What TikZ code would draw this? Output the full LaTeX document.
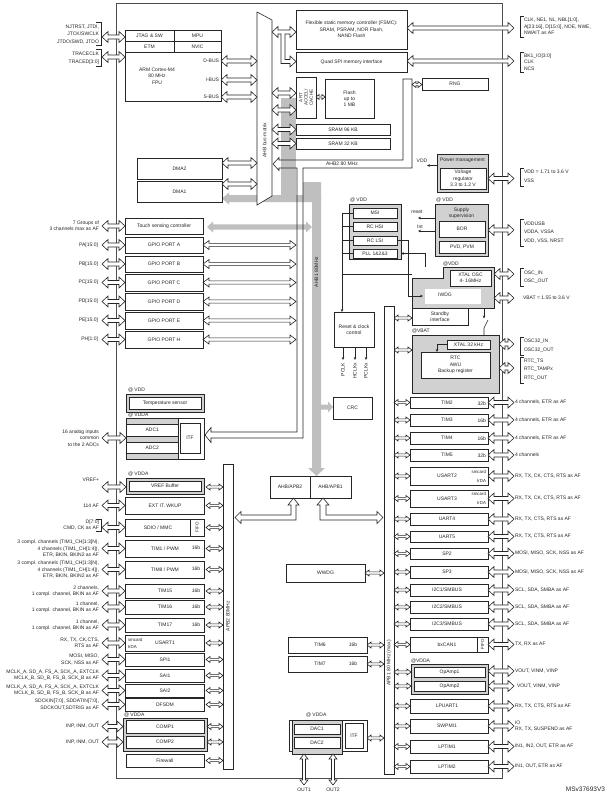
\documentclass[tikz,border=0pt]{standalone}
\usepackage{fontspec}
\setmainfont{Liberation Sans}
\usetikzlibrary{arrows.meta}
\newcommand\bx[7][]{%
  \pgfmathsetmacro\bxw{#5-#3}\pgfmathsetmacro\bxh{#6-#4}%
  \node[box,minimum width=\bxw pt,minimum height=\bxh pt,#1] (#2) at ({(#3+#5)/2},{(#4+#6)/2}) {#7};}
\newcommand\harrow[6]{\draw[arr] ({#1},{#3}) -- ({#1+#4},{#3-#5}) -- ({#1+#4},{#3-#6}) -- ({#2-#4},{#3-#6}) -- ({#2-#4},{#3-#5}) -- ({#2},{#3}) -- ({#2-#4},{#3+#5}) -- ({#2-#4},{#3+#6}) -- ({#1+#4},{#3+#6}) -- ({#1+#4},{#3+#5}) -- cycle;}
\newcommand\hA[3]{\harrow{#1}{#2}{#3}{6}{5.5}{2}}
\newcommand\hM[3]{\harrow{#1}{#2}{#3}{6}{4.5}{1.6}}
\newcommand\hS[3]{\harrow{#1}{#2}{#3}{4}{3}{1.1}}
\newcommand\varrow[3]{\draw[arr] ({#1},{#2}) -- ({#1+4},{#2+5}) -- ({#1+1.5},{#2+5}) -- ({#1+1.5},{#3-5}) -- ({#1+4},{#3-5}) -- ({#1},{#3}) -- ({#1-4},{#3-5}) -- ({#1-1.5},{#3-5}) -- ({#1-1.5},{#2+5}) -- ({#1-4},{#2+5}) -- cycle;}
\newcommand\bracketR[2]{\draw[ln] (524,{#1}) -- (520.5,{#1}) -- (520.5,{#2}) -- (524,{#2});}
\newcommand\bracketL[2]{\draw[ln] (96,{#1}) -- (101,{#1}) -- (101,{#2}) -- (96,{#2});}
\newcommand\lrow[6]{%
  \bx{#1}{125}{#2}{204}{#3}{}%
  \node[txt] at (165,{(#2+#3)/2}) {#4};%
  \node[txt] at (196,{(#2+#3)/2-0.5}) {#5};%
  \hS{206}{223}{(#2+#3)/2}%
  \hA{102}{125}{(#2+#3)/2}%
  \node[txt,anchor=east,align=right] at (99,{(#2+#3)/2}) {#6};}
\newcommand\rrow[6]{%
  \bx{#1}{410}{#2}{488}{#3}{}%
  \node[txt] at (447,{(#2+#3)/2}) {#4};%
  \node[txt,anchor=east] at (486,{(#2+#3)/2+1}) {#6};%
  \hS{394}{410}{(#2+#3)/2}%
  \hA{488}{514}{(#2+#3)/2}%
  \node[txt,anchor=west,align=left] at (515,{(#2+#3)/2}) {#5};}
\begin{document}
\begin{tikzpicture}[x=1pt,y=-1pt,
  font=\fontsize{5}{6.3}\selectfont,
  box/.style={draw=black!85,line width=0.6pt,fill=white,inner sep=0pt,outer sep=0pt,align=center,text=black!85},
  gbox/.style={box,fill=black!18},
  txt/.style={inner sep=0pt,outer sep=0pt,text=black!85},
  sm/.style={font=\fontsize{4.4}{5}\selectfont},
  rl/.style={txt,anchor=west,align=left,font=\fontsize{5}{8.5}\selectfont},
  arr/.style={draw=black!85,line width=0.6pt,fill=white,line join=miter},
  gbar/.style={fill=black!25,draw=none},
  ln/.style={draw=black!85,line width=0.6pt},
  tip/.style={-{Stealth[length=3pt,width=2.6pt]}}]
\useasboundingbox (0,0) rectangle (607,793);
\fill[white] (0,0) rectangle (607,793);

% ---------- gray AHB1 structure
\fill[gbar] (281,98) rectangle (296,200);
\fill[gbar] (222,198.5) -- (229,192.5) -- (229,195) -- (321,195) -- (321,202) -- (229,202) -- (229,204.5) -- cycle;
\fill[gbar] (303,182) rectangle (321,200);
\fill[gbar] (312,182) -- (321,182) -- (321,468) -- (325,468) -- (316.5,476) -- (308,468) -- (312,468) -- cycle;
\fill[gbar] (207,227) -- (213,221.5) -- (213,224.3) -- (306,224.3) -- (306,221.5) -- (312,227) -- (306,232.5) -- (306,229.7) -- (213,229.7) -- (213,232.5) -- cycle;
\fill[gbar] (321,404.5) -- (328,404.5) -- (328,401.5) -- (333,407) -- (328,412.5) -- (328,409.5) -- (321,409.5) -- cycle;
\node[txt,rotate=90] (ahb1lab) at (316.5,272) {AHB1 80MHz};

% ---------- main outline
\draw[ln,draw=black!70] (116,3) rectangle (502,778);

% ---------- AHB2 bus outline
\draw[ln] (273,164) -- (279,157.5) -- (279,160) -- (403,160) -- (403,79) -- (412,79) -- (412,168) -- (303,168) -- (303,438) -- (211,438) -- (211,442.5) -- (205,435) -- (211,427.5) -- (211,432) -- (297,432) -- (297,168) -- (279,168) -- (279,170.5) -- cycle;
\node[txt] (ahb2lab) at (342,164) {AHB2 80 MHz};

% ---------- bus matrix
\draw[arr] (257,12) -- (272,20) -- (272,196) -- (257,205) -- cycle;
\node[txt,rotate=90] (mtxlab) at (264.5,140) {AHB bus-matrix};

% ---------- Cortex
\bx{cortex}{125}{30}{221}{101}{}
\bx{jtag}{125}{30}{174}{41}{JTAG \& SW}
\bx{mpu}{174}{30}{221}{41}{MPU}
\bx{etm}{125}{41}{174}{52}{ETM}
\bx{nvic}{174}{41}{221}{52}{NVIC}
\node[txt,align=center] (cpu) at (157,76) {ARM Cortex-M4\\80 MHz\\FPU};
\node[txt,anchor=east] (dbus) at (219,61) {D-BUS};
\node[txt,anchor=east] (ibus) at (219,80) {I-BUS};
\node[txt,anchor=east] (sbus) at (219,97) {S-BUS};
\hA{221}{257}{61}
\hA{221}{257}{80}
\hA{221}{257}{97}
\node[txt,anchor=east,align=right,font=\fontsize{5}{7.6}\selectfont] (jtaglab) at (99,34.5) {NJTRST, JTDI,\\JTCK/SWCLK\\JTDO/SWD, JTDO};
\bracketL{22.5}{45.5}
\hA{102}{125}{37}
\node[txt,anchor=east,align=right,font=\fontsize{5}{8}\selectfont] (tracelab) at (99,58) {TRACECLK\\TRACED[3:0]};
\bracketL{49}{66}
\hA{102}{125}{57}

% ---------- DMA
\bx{dma2}{137}{158}{222}{179}{DMA2}
\bx{dma1}{137}{181}{222}{202}{DMA1}
\hA{222}{257}{163}
\hA{222}{257}{184}

% ---------- FSMC / QSPI
\bx{fsmc}{296}{10}{407}{49}{Flexible static memory controller (FSMC):\\SRAM, PSRAM, NOR Flash,\\NAND Flash}
\bx{qspi}{296}{52}{407}{72}{Quad SPI memory interface}
\hA{272}{296}{32}
\fill[white] (281.3,33.2) rectangle (284.7,60);
\draw[ln,fill=white] (281,33.6) -- (281,63.5) -- (290,63.5) -- (290,67) -- (296,61.5) -- (290,56) -- (290,59.5) -- (285,59.5) -- (285,33.6);
\hA{407}{514}{28}
\hA{407}{514}{61}
\node[txt,anchor=west,align=left] (fsmclab) at (524,26.5) {CLK, NE1, NL, NBL[1:0],\\A[23:16], D[15:0], NOE, NWE,\\NWAIT as AF};
\bracketR{16}{37}
\node[txt,anchor=west,align=left] (qspilab) at (524,62) {BK1\_IO[3:0]\\CLK\\NCS};
\bracketR{52}{72}

% ---------- Flash / SRAM
\bx{art}{296}{77}{316}{118}{}
\node[txt,rotate=90,align=center,font=\fontsize{4.6}{5.2}\selectfont] (artlab) at (306,97.5) {ART\\ACCEL/\\CACHE};
\bx{flash}{325}{79}{374}{118}{Flash\\up to\\1 MB}
\harrow{316}{325}{97}{3}{2.5}{0.9}
\bx{sram1}{296}{124}{390}{135}{SRAM 96 KB}
\bx{sram2}{296}{138}{390}{149}{SRAM 32 KB}
\hA{272}{296}{93}
\hA{272}{296}{110}
\hA{272}{296}{129.5}
\hA{272}{296}{143.5}

% ---------- RNG
\bx{rng}{422}{78}{488}{90}{RNG}
\hS{412}{422}{84.5}

% ---------- Power management
\bx[gbox]{pwr}{437}{154}{488}{192}{}
\node[txt] (pwrlab) at (462.5,160.5) {Power management};
\bx{vreg}{440}{168}{486}{189}{Voltage\\regulator\\3.3 to 1.2 V}
\node[txt] (vddlab) at (422,161) {VDD};
\draw[ln,tip] (437,165.5) -- (427,165.5);
\hA{488}{514}{178.5}
\node[rl] (vddr) at (524,176.5) {VDD = 1.71 to 3.6 V\\VSS};
\bracketR{168}{186}

% ---------- clocks
\node[txt,anchor=west] (vddc) at (350,200) {@ VDD};
\bx[gbox]{clk}{349}{204}{401}{259}{}
\bx{msi}{353}{208}{397}{218}{MSI}
\bx{hsi}{353}{222}{397}{231}{RC HSI}
\bx{lsi}{353}{236}{397}{245}{RC LSI}
\bx{pll}{353}{249}{397}{258}{PLL 1\&2\&3}
\draw[ln] (342,213) -- (353,213);
\draw[ln] (342,226.5) -- (353,226.5);
\draw[ln] (342,240.5) -- (353,240.5);
\draw[ln] (342,253.5) -- (353,253.5);
\draw[ln,tip] (342,213) -- (342,312);
\draw[ln] (342,274) -- (412,274);
\draw[ln,tip] (397,240.5) -- (408,240.5) -- (408,296) -- (423,296);
\draw[ln,tip] (425,267) -- (425,253.5) -- (401,253.5);

% ---------- supply supervision
\node[txt,anchor=west] (vdds) at (436,200) {@ VDD};
\bx[gbox]{sup}{435}{204}{488}{256}{}
\node[txt,align=center] (suplab) at (461.5,213) {Supply\\supervision};
\bx{bor}{439}{221}{485}{237}{BOR}
\bx{pvd}{439}{241}{485}{253}{PVD, PVM}
\node[txt] (rstlab) at (417,212) {reset};
\draw[ln,tip] (435,218) -- (418,218);
\node[txt] (intlab) at (420,227) {Int};
\draw[ln,tip] (435,231) -- (418,231);
\hA{488}{514}{230}
\node[rl] (suplabr) at (524,232.5) {VDDUSB\\VDDA, VSSA\\VDD, VSS, NRST};
\bracketR{219}{246}

% ---------- XTAL OSC / IWDG / standby
\node[txt,anchor=west] (vddx) at (443,264) {@VDD};
\draw[ln,fill=black!18] (412,278) -- (443,278) -- (443,267) -- (494,267) -- (494,308) -- (412,308) -- cycle;
\bx{xosc}{450}{270}{491}{286}{XTAL OSC\\4- 16MHz}
\fill[white] (425,289) rectangle (481,304);
\node[txt] (iwdg) at (445,295) {IWDG};
\draw[ln,tip] (408,296) -- (423,296);
\bx{stby}{412}{308}{468}{325}{Standby\\interface}
\hS{394}{412}{318}
\hA{494}{514}{274}
\node[rl] (osclab) at (524,277) {OSC\_IN\\OSC\_OUT};
\bracketR{268}{286}
\hA{494}{514}{298}
\node[txt,anchor=west] (vbatlab) at (523,298) {VBAT = 1.55 to 3.6 V};
\draw[ln,tip] (484,309) -- (484,318.5);
\draw[ln] (488,320) -- (484,328) -- (484,335);

% ---------- VBAT domain
\node[txt,anchor=west] (vbatd) at (412,331) {@VBAT};
\bx[gbox]{vbat}{412}{335}{499}{393}{}
\bx{x32}{447}{340}{490}{349}{XTAL 32 kHz}
\bx{rtc}{421}{352}{490}{378}{RTC\\AWU\\Backup register}
\draw[ln,tip] (447,344.5) -- (437,344.5) -- (437,352);
\hS{394}{412}{350}
\hA{499}{514}{344}
\node[rl] (osc32lab) at (524,345.5) {OSC32\_IN\\OSC32\_OUT};
\bracketR{337}{355}
\hA{499}{514}{368}
\node[rl] (rtclab) at (524,369.5) {RTC\_TS\\RTC\_TAMPx\\RTC\_OUT};
\bracketR{357}{383}

% ---------- reset & clock control
\bx{rcc}{334}{312}{374}{347}{Reset \& clock\\control}
\draw[ln,tip] (343,347) -- (343,360);
\draw[ln,tip] (355,347) -- (355,360);
\draw[ln,tip] (366,347) -- (366,360);
\node[txt,rotate=90,anchor=east] (pclk) at (343,363) {PCLK};
\node[txt,rotate=90,anchor=east] (hclk) at (355,363) {HCLKx};
\node[txt,rotate=90,anchor=east] (pclkx) at (366,363) {PCLKx};

% ---------- CRC, bridges
\bx{crc}{333}{397}{372}{419}{CRC}
\bx{br2}{270}{476}{310}{498}{AHB/APB2}
\bx{br1}{310}{476}{351}{498}{AHB/APB1}
\draw[arr] (293.5,498) -- (299,505) -- (296,505) -- (296,520) -- (241,520) -- (241,523.5) -- (235,517.5) -- (241,511.5) -- (241,515) -- (291,515) -- (291,505) -- (288,505) -- cycle;
\draw[arr] (323,498) -- (329,505) -- (326,505) -- (326,515) -- (377,515) -- (377,511.5) -- (383,517.5) -- (377,523.5) -- (377,520) -- (320,520) -- (320,505) -- (317,505) -- cycle;

% ---------- APB bars
\bx{apb2}{223}{464}{233}{769}{}
\node[txt,rotate=90] (apb2lab) at (228,616) {APB2 80MHz};
\bx{apb1}{384}{306}{394}{774}{}
\node[txt,rotate=90] (apb1lab) at (389,663) {APB1 80 MHz (max)};

% ---------- middle APB1 blocks
\bx{wwdg}{286}{564}{365}{582}{WWDG}
\hS{365}{384}{573}
\bx{tim6}{288}{637}{367}{653}{}
\node[txt] (t6) at (320,645) {TIM6};
\node[txt] (t6b) at (353,645) {16b};
\hS{367}{384}{645}
\bx{tim7}{288}{656}{367}{672}{}
\node[txt] (t7) at (320,664) {TIM7};
\node[txt] (t7b) at (353,664) {16b};
\hS{367}{384}{664}
\node[txt,anchor=west] (vdda5) at (306,715) {@ VDDA};
\bx{daco}{289}{720}{367}{751}{}
\bx[gbox]{dacg}{292}{720}{342}{754}{}
\bx{dac1}{294}{724}{340}{734}{DAC1}
\bx{dac2}{294}{737}{340}{748}{DAC2}
\bx{dacitf}{345}{723}{363}{748}{ITF}
\hS{367}{384}{738}
\varrow{304}{754}{785}
\varrow{333}{754}{785}
\node[txt] (out1) at (304,789.5) {OUT1};
\node[txt] (out2) at (333,790) {OUT2};

% ---------- left column
\bx{touch}{125}{218}{203}{234}{Touch sensing controller}
\hA{102}{125}{226}
\node[txt,anchor=east,align=right,font=\fontsize{5}{6}\selectfont] (touchlab) at (99,226) {7 Groups of\\3 channels max as AF};
\foreach \nm/\ya/\yb/\lab in {A/237/253/PA[15:0],B/256/272/PB[15:0],C/274/291/PC[15:0],D/293/310/PD[15:0],E/312/329/PE[15:0],H/331/348/PH[1:0]}{
  \bx{gpio\nm}{125}{\ya}{203}{\yb}{GPIO PORT \nm}
  \hA{102}{125}{(\ya+\yb)/2}
  \hM{203}{296}{(\ya+\yb)/2}
  \node[txt,anchor=east] at (98,{(\ya+\yb)/2}) {\lab};
}
\node[txt,anchor=west] (vddt) at (128,390) {@ VDD};
\bx[gbox]{tempo}{126}{394}{204}{412}{}
\bx{temp}{129}{397}{201}{409}{Temperature sensor}
\node[txt,anchor=west] (vdda1) at (128,415) {@ VDDA};
\bx{adco}{126}{418}{204}{459}{}
\bx[gbox]{adcg}{126}{418}{178}{459}{}
\bx[draw=none]{adc1}{127}{424}{177.5}{436}{ADC1}
\bx[draw=none]{adc2}{127}{442}{177.5}{453}{ADC2}
\draw[ln] (127,424) -- (177.5,424) (127,436) -- (177.5,436) (127,442) -- (177.5,442) (127,453) -- (177.5,453);
\bx{itf}{180}{423}{200}{453}{ITF}
\hA{102}{126}{438}
\node[txt,anchor=east,align=right] (anlab) at (99,438) {16 analog inputs\\common\\to the 2 ADCs};
\node[txt,anchor=west] (vdda2) at (128,474) {@ VDDA};
\bx[gbox]{vrefo}{126}{478}{204}{494}{}
\bx{vref}{129}{481}{201}{491}{VREF Buffer}
\hA{102}{126}{487}
\hS{206}{223}{487}
\node[txt,anchor=east] (vreflab) at (99,480) {VREF+};
\lrow{exti}{497}{514}{EXT IT. WKUP}{}{114 AF}
\bx{sdio}{125}{519}{204}{536}{}
\draw[ln] (190,519) -- (190,536);
\node[txt] (sdiolab) at (158,527.5) {SDIO / MMC};
\node[txt,rotate=90,sm] (fifo1) at (197,527.5) {FIFO};
\hS{206}{223}{527.5}
\hA{102}{125}{527.5}
\node[txt,anchor=east,align=right,font=\fontsize{5}{6}\selectfont] (sdiol) at (99,525.5) {D[7:0]\\CMD, CK as AF};
\bracketL{519.5}{531.5}
\lrow{tim1}{540}{557}{TIM1 / PWM}{16b}{3 compl. channels (TIM1\_CH[1:3]N),\\4 channels (TIM1\_CH[1:4]),\\ETR, BKIN, BKIN2 as AF}
\lrow{tim8}{561}{578}{TIM8 / PWM}{16b}{3 compl. channels (TIM1\_CH[1:3]N),\\4 channels (TIM1\_CH[1:4]),\\ETR, BKIN, BKIN2 as AF}
\lrow{tim15}{584}{598}{TIM15}{16b}{2 channels,\\1 compl. channel, BKIN as AF}
\lrow{tim16}{600}{614}{TIM16}{16b}{1 channel,\\1 compl. channel, BKIN as AF}
\lrow{tim17}{618}{632}{TIM17}{16b}{1 channel,\\1 compl. channel, BKIN as AF}
\lrow{usart1}{635}{651}{USART1}{}{RX, TX, CK,CTS,\\RTS as AF}
\node[txt,anchor=west,sm] (sc1) at (128,639.5) {smcard};
\node[txt,anchor=west,sm] (ir1) at (128,647) {IrDA};
\lrow{spi1}{653}{666}{SPI1}{}{MOSI, MISO,\\SCK, NSS as AF}
\lrow{sai1}{669}{682}{SAI1}{}{MCLK\_A, SD\_A, FS\_A, SCK\_A, EXTCLK\\MCLK\_B, SD\_B, FS\_B, SCK\_B as AF}
\lrow{sai2}{684}{697}{SAI2}{}{MCLK\_A, SD\_A, FS\_A, SCK\_A, EXTCLK\\MCLK\_B, SD\_B, FS\_B, SCK\_B as AF}
\lrow{dfsdm}{698}{711}{DFSDM}{}{SDCKIN[7:0], SDDATIN[7:0],\\SDCKOUT,SDTRIG as AF}
\node[txt,anchor=west] (vdda3) at (124,715) {@ VDDA};
\bx[gbox]{compg}{123}{718}{207}{751}{}
\bx{comp1}{126}{720.5}{204}{733}{COMP1}
\bx{comp2}{126}{736}{204}{748.5}{COMP2}
\hS{207}{223}{726.5}
\hS{207}{223}{742}
\hA{102}{123}{726.5}
\hA{102}{123}{742}
\node[txt,anchor=east] (cl1) at (99,726.5) {INP, INM, OUT};
\node[txt,anchor=east] (cl2) at (99,742) {INP, INM, OUT};
\bx{fw}{126}{754}{204}{767}{Firewall}
\hS{206}{223}{760.5}

% ---------- right column
\rrow{tim2}{397}{408}{TIM2}{4 channels, ETR as AF}{32b}
\rrow{tim3}{414}{426}{TIM3}{4 channels, ETR as AF}{16b}
\rrow{tim4}{432}{444}{TIM4}{4 channels, ETR as AF}{16b}
\rrow{tim5}{449}{461}{TIM5}{4 channels}{32b}
\rrow{usart2}{467}{485}{USART2}{RX, TX, CK, CTS, RTS as AF}{}
\node[txt,anchor=east,sm] (sc2) at (486,471.5) {smcard};
\node[txt,anchor=east,sm] (ir2) at (486,480.5) {IrDA};
\rrow{usart3}{490}{507}{USART3}{RX, TX, CK, CTS, RTS as AF}{}
\node[txt,anchor=east,sm] (sc3) at (486,494) {smcard};
\node[txt,anchor=east,sm] (ir3) at (486,503) {IrDA};
\rrow{uart4}{513}{525}{UART4}{RX, TX, CTS, RTS as AF}{}
\rrow{uart5}{531}{542}{UART5}{RX, TX, CTS, RTS as AF}{}
\rrow{sp2}{548}{559}{SP2}{MOSI, MISO, SCK, NSS as AF}{}
\rrow{sp3}{566}{578}{SP3}{MOSI, MISO, SCK, NSS as AF}{}
\rrow{i2c1}{584}{596}{I2C1/SMBUS}{SCL, SDA, SMBA as AF}{}
\rrow{i2c2}{601}{613}{I2C2/SMBUS}{SCL, SDA, SMBA as AF}{}
\rrow{i2c3}{618}{630}{I2C3/SMBUS}{SCL, SDA, SMBA as AF}{}
\rrow{can}{637}{652}{bxCAN1}{TX, RX as AF}{}
\draw[ln] (477,637) -- (477,652);
\node[txt,rotate=90,sm] (fifo2) at (482.5,644.5) {FIFO};
\node[txt,anchor=west] (vdda4) at (411,661) {@VDDA};
\bx[gbox]{opg}{411}{664}{488}{694}{}
\bx{op1}{414}{667}{485}{677.5}{OpAmp1}
\bx{op2}{414}{681}{485}{691}{OpAmp2}
\hS{394}{411}{672}
\hS{394}{411}{686}
\hA{488}{514}{671}
\hA{488}{514}{686}
\node[txt,anchor=west] (opl1) at (515,671) {VOUT, VINM, VINP};
\node[txt,anchor=west] (opl2) at (517,686) {VOUT, VINM, VINP};
\rrow{lpuart}{699}{713}{LPUART1}{RX, TX, CTS, RTS as AF}{}
\rrow{swpmi}{719}{733}{SWPMI1}{IO\\RX, TX, SUSPEND as AF}{}
\rrow{lptim1}{740}{753}{LPTIM1}{IN1, IN2, OUT, ETR as AF}{}
\rrow{lptim2}{760}{773}{LPTIM2}{IN1, OUT, ETR as AF}{}

\node[txt,anchor=east,font=\fontsize{6.5}{7}\selectfont] (ref) at (605,789) {MSv37693V3};
\end{tikzpicture}
\end{document}
